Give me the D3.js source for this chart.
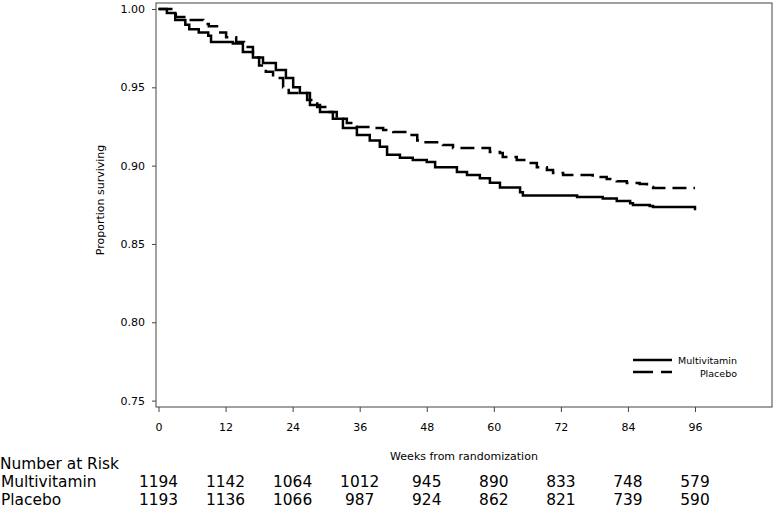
<!DOCTYPE html>
<html>
<head>
<meta charset="utf-8">
<script src="https://cdn.jsdelivr.net/npm/d3@7"></script>
<style>
  body { margin: 0; background: white; }
  svg { display: block; }
</style>
</head>
<body>
<div id="chart"></div>
<script>
// Kaplan-Meier curves: [week, proportion surviving]
const multivitamin = [
  [0, 1.000], [1.5, 0.9974], [3, 0.993], [4.8, 0.990], [5.5, 0.987], [7.2, 0.985],
  [8.9, 0.983], [9.4, 0.979], [13.3, 0.978], [15.1, 0.9725], [16.9, 0.969],
  [18.7, 0.9655], [21.0, 0.961], [22.8, 0.956], [24.1, 0.950], [25.3, 0.9464],
  [27.1, 0.9387], [28.9, 0.9342], [31.2, 0.930], [33.0, 0.924], [35.5, 0.9195],
  [37.8, 0.916], [39.6, 0.912], [40.9, 0.907], [43.2, 0.905], [45.5, 0.9036],
  [48.0, 0.9023], [49.5, 0.899], [53.4, 0.896], [55.2, 0.894], [57.5, 0.892],
  [59.3, 0.889], [61.1, 0.886], [64.7, 0.883], [65.2, 0.881], [74.9, 0.880],
  [79.5, 0.879], [82.0, 0.8774], [84.4, 0.876], [84.9, 0.8748], [87.9, 0.8742],
  [88.5, 0.8736], [96, 0.8716]
];
const placebo = [
  [0, 1.000], [3.1, 0.9949], [5.5, 0.993], [8.0, 0.9904], [9.0, 0.989],
  [10.8, 0.985], [12.1, 0.982], [13.9, 0.979], [15.3, 0.9757], [16.9, 0.969],
  [18.0, 0.964], [19.2, 0.960], [20.5, 0.956], [22.3, 0.950], [23.3, 0.9464],
  [26.6, 0.9419], [28.4, 0.9374], [30.1, 0.9342], [31.9, 0.930], [33.7, 0.9272],
  [35.5, 0.9247], [37.8, 0.924], [40.2, 0.9227], [42.0, 0.9215], [44.5, 0.9195],
  [46.3, 0.916], [47.1, 0.915], [50.4, 0.9144], [50.9, 0.9132], [52.7, 0.9112],
  [59.3, 0.9087], [61.1, 0.908], [61.6, 0.9055], [64.1, 0.9036], [65.9, 0.9017],
  [67.7, 0.899], [69.5, 0.8972], [70.6, 0.8953], [72.4, 0.894], [77.7, 0.8927],
  [80.2, 0.8914], [82.0, 0.890], [83.8, 0.8889], [86.1, 0.8883], [87.4, 0.8863],
  [88.5, 0.8857], [96, 0.8857]
];

// axis ticks
const weekTicks = [0, 12, 24, 36, 48, 60, 72, 84, 96];
const survTicks = [0.75, 0.80, 0.85, 0.90, 0.95, 1.00];

// number at risk table
const riskGroups = ["Multivitamin", "Placebo"];
const riskMultivitamin = [1194, 1142, 1064, 1012, 945, 890, 833, 748, 579];
const riskPlacebo = [1193, 1136, 1066, 987, 924, 862, 821, 739, 590];

const width = 774;
const height = 509;
const font = "DejaVu Sans, Verdana, sans-serif";

const svg = d3.select("#chart")
  .append("svg")
  .attr("width", width)
  .attr("height", height)
  .style("background-color", "white");

// plot frame
const frame = { left: 156, right: 772, top: 3, bottom: 407 };

const x = d3.scaleLinear()
  .domain([0, 96])
  .range([158.5, 695]);

const y = d3.scaleLinear()
  .domain([0.75, 1.0])
  .range([400.6, 9]);

svg.append("rect")
  .attr("x", frame.left)
  .attr("y", frame.top)
  .attr("width", frame.right - frame.left)
  .attr("height", frame.bottom - frame.top)
  .attr("fill", "none")
  .attr("stroke", "#444")
  .attr("stroke-width", 1);

// y axis
const yAxis = svg.append("g")
  .attr("transform", `translate(${frame.left},0)`)
  .call(d3.axisLeft(y)
    .tickValues(survTicks)
    .tickFormat(d3.format(".2f"))
    .tickSize(4)
    .tickPadding(7));
yAxis.select(".domain").remove();

// x axis
const xAxis = svg.append("g")
  .attr("transform", `translate(0,${frame.bottom})`)
  .call(d3.axisBottom(x)
    .tickValues(weekTicks)
    .tickSize(5)
    .tickPadding(11));
xAxis.select(".domain").remove();

svg.selectAll(".tick line").attr("stroke", "#444");
svg.selectAll(".tick text")
  .style("font-family", font)
  .style("font-size", "11px")
  .attr("fill", "black");

// axis titles
svg.append("text")
  .attr("transform", `translate(104,200) rotate(-90)`)
  .attr("text-anchor", "middle")
  .style("font-family", font)
  .style("font-size", "11px")
  .text("Proportion surviving");

svg.append("text")
  .attr("x", (frame.left + frame.right) / 2)
  .attr("y", 460)
  .attr("text-anchor", "middle")
  .style("font-family", font)
  .style("font-size", "11px")
  .text("Weeks from randomization");

// survival curves
const line = d3.line()
  .x(d => x(d[0]))
  .y(d => y(d[1]))
  .curve(d3.curveStepAfter);

svg.append("path")
  .datum(multivitamin)
  .attr("d", line)
  .attr("fill", "none")
  .attr("stroke", "black")
  .attr("stroke-width", 2.5);

svg.append("path")
  .datum(placebo)
  .attr("d", line)
  .attr("fill", "none")
  .attr("stroke", "black")
  .attr("stroke-width", 2.5)
  .attr("stroke-dasharray", "14,7");

// legend
const legend = svg.append("g");
legend.append("line")
  .attr("x1", 633).attr("x2", 672)
  .attr("y1", 360).attr("y2", 360)
  .attr("stroke", "black").attr("stroke-width", 2.5);
legend.append("line")
  .attr("x1", 633).attr("x2", 672)
  .attr("y1", 372).attr("y2", 372)
  .attr("stroke", "black").attr("stroke-width", 2.5)
  .attr("stroke-dasharray", "20,8");
legend.selectAll("text")
  .data(riskGroups)
  .enter().append("text")
  .attr("x", 737)
  .attr("y", (d, i) => 364 + i * 13)
  .attr("text-anchor", "end")
  .style("font-family", font)
  .style("font-size", "9.5px")
  .text(d => d);

// number at risk table
const tableFont = "15.4px";
svg.append("text")
  .attr("x", 0)
  .attr("y", 469)
  .style("font-family", font)
  .style("font-size", tableFont)
  .text("Number at Risk");

[riskMultivitamin, riskPlacebo].forEach((row, i) => {
  const rowY = 487 + i * 18;
  svg.append("text")
    .attr("x", 1)
    .attr("y", rowY)
    .style("font-family", font)
    .style("font-size", tableFont)
    .text(riskGroups[i]);
  svg.append("g")
    .selectAll("text")
    .data(row)
    .enter().append("text")
    .attr("x", (d, j) => x(weekTicks[j]))
    .attr("y", rowY)
    .attr("text-anchor", "middle")
    .style("font-family", font)
    .style("font-size", tableFont)
    .text(d => d);
});
</script>
</body>
</html>
